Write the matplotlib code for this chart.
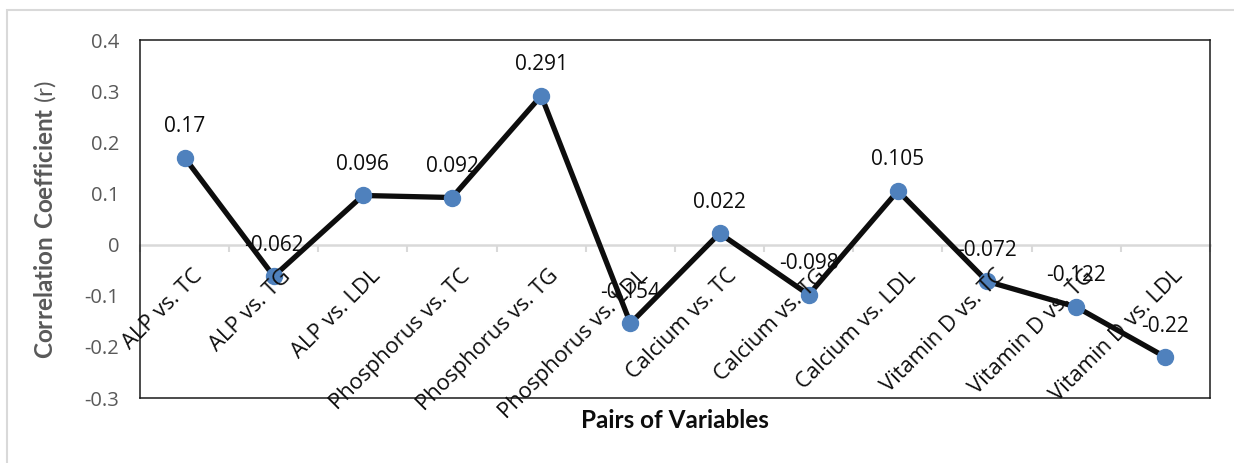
import numpy as np
from matplotlib import pyplot as plt
from matplotlib import transforms
from matplotlib.patches import Rectangle

# correlation of each pair of variables
pairs = ["ALP vs. TC", "ALP vs. TG", "ALP vs. LDL",
         "Phosphorus vs. TC", "Phosphorus vs. TG", "Phosphorus vs. LDL",
         "Calcium vs. TC", "Calcium vs. TG", "Calcium vs. LDL",
         "Vitamin D vs. TC", "Vitamin D vs. TG", "Vitamin D vs. LDL"]
r_values = [0.17, -0.062, 0.096, 0.092, 0.291, -0.154,
            0.022, -0.098, 0.105, -0.072, -0.122, -0.22]
y_ticks = [0.4, 0.3, 0.2, 0.1, 0, -0.1, -0.2, -0.3]

plt.rcParams['font.family'] = ['Open Sans', 'DejaVu Sans']
plt.rcParams['mathtext.fontset'] = 'custom'
plt.rcParams['mathtext.bf'] = 'Lato:bold'
plt.rcParams['mathtext.rm'] = 'Lato'

W, H = 1234, 463
fig = plt.figure(figsize=(W / 100, H / 100), dpi=100)
ax = fig.add_axes([140 / W, 1 - 398 / H, 1070 / W, 358 / H])

x = np.arange(len(pairs))
ax.plot(x, r_values, color='#0d0d0d', lw=3.8, zorder=3,
        solid_joinstyle='miter')
ax.plot(x, r_values, 'o', color='#4f81bd', ms=11.5, zorder=4)

ymin, ymax = -0.3, 0.4
ax.set_xlim(-0.5, len(pairs) - 0.5)
ax.set_ylim(ymin, ymax)
ax.set_yticks(y_ticks)
ax.set_yticklabels([str(t) for t in y_ticks])
ax.tick_params(axis='y', length=0, pad=15, labelsize=14.5,
               labelcolor='#595959')
ax.set_xticks([])
for s in ax.spines.values():
    s.set_linewidth(1.1)
    s.set_color('#1a1a1a')

# horizontal axis line at zero with category separators
zero_frac = (0 - ymin) / (ymax - ymin)
zax = ax.secondary_xaxis(zero_frac)
zax.set_xticks(np.arange(len(pairs) + 1) - 0.5)
zax.tick_params(axis='x', length=5, width=1.5, color='#d9d9d9',
                labelbottom=False, labeltop=False, direction='out')
zax.spines['bottom'].set_color('#d9d9d9')
zax.spines['bottom'].set_linewidth(1.8)

# category names under the zero line
offset = transforms.ScaledTranslation(7 / 100, -21 / 100,
                                      fig.dpi_scale_trans)
for i, name in enumerate(pairs):
    ax.text(i, 0, name, rotation=45, ha='right', va='top',
            rotation_mode='anchor', fontsize=15.8, color='#0d0d0d',
            transform=ax.transData + offset, zorder=6)

# value labels above each point
for i, v in enumerate(r_values):
    ax.annotate(str(v), (i, v), xytext=(0, 31), textcoords='offset pixels',
                ha='center', va='center', fontsize=15, color='#0d0d0d',
                zorder=6)

fig.text(45 / W, 1 - 220 / H,
         r"$\mathbf{Correlation\ Coefficient}$ (r)",
         rotation=90, ha='center', va='center', fontsize=17.5,
         color='#595959', family='Lato')
fig.text(675 / W, 1 - 421 / H, "Pairs of Variables", ha='center',
         va='center', fontsize=17.5, fontweight='bold', family='Lato',
         color='#0d0d0d')

fig.patches.append(Rectangle((7 / W, -0.05), 1.2, 1 - 10 / H + 0.05,
                             transform=fig.transFigure, fill=False,
                             edgecolor='#d9d9d9', lw=1.5))

fig.savefig("out.png", dpi=100)
